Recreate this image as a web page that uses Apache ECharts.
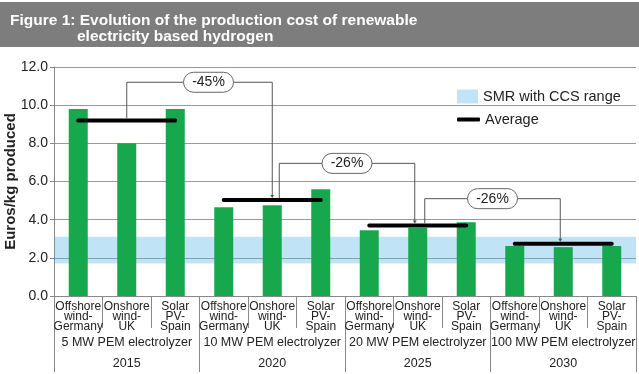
<!DOCTYPE html>
<html><head><meta charset="utf-8">
<script src="https://cdn.jsdelivr.net/npm/echarts@6/dist/echarts.min.js"></script>
<style>html,body{margin:0;padding:0;background:#fff}#c{width:639px;height:374px}</style>
</head><body><div id="c"></div>
<script>
const categories = [
  'Offshore\nwind-\nGermany','Onshore\nwind-\nUK','Solar\nPV-\nSpain',
  'Offshore\nwind-\nGermany','Onshore\nwind-\nUK','Solar\nPV-\nSpain',
  'Offshore\nwind-\nGermany','Onshore\nwind-\nUK','Solar\nPV-\nSpain',
  'Offshore\nwind-\nGermany','Onshore\nwind-\nUK','Solar\nPV-\nSpain'
];
const groupNames = ['5 MW PEM electrolyzer','10 MW PEM electrolyzer','20 MW PEM electrolyzer','100 MW PEM electrolyzer'];
const years = ['2015','2020','2025','2030'];
const costs = [9.8, 8.0, 9.8, 4.65, 4.75, 5.6, 3.45, 3.58, 3.87, 2.62, 2.56, 2.62];
const averages = [9.2, 5.03, 3.7, 2.74];
const smrRange = [1.7, 3.1];
const reductions = ['-45%', '-26%', '-26%'];
const bracketLevels = [11.2, 6.95, 5.1];
const yMin = 0, yMax = 12, yStep = 2;

const FONT = 'Liberation Sans, Arial, Helvetica, sans-serif';
const chart = echarts.init(document.getElementById('c'), null, {renderer: 'canvas'});

const avgSeries = averages.map((a, g) => ({
  type: 'line', name: 'Average', xAxisIndex: 0, yAxisIndex: 0,
  data: categories.map((_, i) => Math.floor(i / 3) === g ? a : '-'),
  symbol: 'none', z: 3, silent: true,
  lineStyle: {color: '#000', width: 4, cap: 'round'},
  itemStyle: {color: '#000'}
}));

const option = {
  animation: false,
  textStyle: {fontFamily: FONT},
  grid: {left: 54, right: 3, top: 67, bottom: 78, containLabel: false, outerBoundsMode: 'none'},
  legend: [
    {data: [{name: 'SMR with CCS range', icon: 'rect', itemStyle: {color: '#c0e4f5'}}],
     left: 452, top: 84, itemWidth: 21, itemHeight: 14, itemGap: 8,
     textStyle: {fontSize: 14.5, color: '#222', fontFamily: FONT}, selectedMode: false},
    {data: [{name: 'Average', icon: 'roundRect', itemStyle: {color: '#000'}}],
     left: 452, top: 107, itemWidth: 23, itemHeight: 4, itemGap: 8,
     textStyle: {fontSize: 14.5, color: '#222', fontFamily: FONT}, selectedMode: false}
  ],
  xAxis: [
    {type: 'category', data: categories, boundaryGap: true, position: 'bottom',
     axisLine: {show: true, lineStyle: {color: '#888', width: 1}},
     axisTick: {show: true, interval: 0, length: 32, lineStyle: {color: '#888'}},
     axisLabel: {interval: 0, fontSize: 12, lineHeight: 10, color: '#222', margin: 6, fontFamily: FONT}},
    {type: 'category', data: groupNames.map((n, i) => n + '\n' + years[i]), boundaryGap: true, position: 'bottom',
     axisLine: {show: false},
     axisTick: {show: true, interval: 0, length: 76, lineStyle: {color: '#888'}},
     axisLabel: {interval: 0, fontSize: 12.5, lineHeight: 21, color: '#222', margin: 36, fontFamily: FONT}}
  ],
  yAxis: {
    type: 'value', min: yMin, max: yMax, interval: yStep,
    name: 'Euros/kg produced', nameLocation: 'middle', nameGap: 36, nameMoveOverlap: false,
    nameTextStyle: {fontSize: 15, fontWeight: 'bold', color: '#222', fontFamily: FONT},
    axisLine: {show: true, lineStyle: {color: '#888'}},
    axisTick: {show: true, length: 4, lineStyle: {color: '#888'}},
    axisLabel: {formatter: v => v.toFixed(1), fontSize: 14, color: '#222', margin: 6, fontFamily: FONT},
    splitLine: {show: true, lineStyle: {color: '#9a9a9a', width: 1}}
  },
  series: [
    {type: 'bar', name: 'Cost', data: costs, barWidth: 19, z: 2,
     itemStyle: {color: '#17a84e'}},
    ...avgSeries,
    {type: 'line', name: 'SMR with CCS range', data: categories.map(() => '-'), z: 10, silent: true,
     itemStyle: {color: '#c0e4f5'},
     markArea: {silent: true, itemStyle: {color: 'rgba(75,178,226,0.35)'},
       data: [[{yAxis: smrRange[0]}, {yAxis: smrRange[1]}]]}}
  ]
};
chart.setOption(option);

// title banner + bracket annotations computed from the chart's own scales
const px = (cat, val) => chart.convertToPixel({xAxisIndex: 0, yAxisIndex: 0}, [cat, val]);
const graphics = [
  {type: 'rect', shape: {x: 0, y: 2, width: 639, height: 45}, style: {fill: '#7d7d7d'}, z: 100},
  {type: 'text', x: 10, y: 21, z: 101, style: {text: 'Figure 1: Evolution of the production cost of renewable',
    fill: '#fff', font: 'bold 15.5px ' + FONT, verticalAlign: 'middle'}},
  {type: 'text', x: 77, y: 37, z: 101, style: {text: 'electricity based hydrogen',
    fill: '#fff', font: 'bold 15.5px ' + FONT, verticalAlign: 'middle'}}
];
reductions.forEach((label, i) => {
  const s = px(3 * i + 1, averages[i]);
  const e = px(3 * (i + 1) + 1, averages[i + 1]);
  const top = px(3 * i + 1, bracketLevels[i])[1];
  const sx = s[0] + (i > 0 ? 7 : 0);
  const ex = e[0] - (i > 0 ? 3 : 0);
  const bx = (sx + ex) / 2 + (i === 0 ? 9 : 0);
  const bw = 50, bh = 20;
  const ls = {stroke: '#555', lineWidth: 1, fill: null};
  graphics.push({type: 'polyline', z: 90, shape: {points: [[sx, s[1] - 2], [sx, top], [bx - bw / 2, top]]}, style: ls});
  graphics.push({type: 'polyline', z: 90, shape: {points: [[bx + bw / 2, top], [ex, top], [ex, e[1] - 3]]}, style: ls});
  graphics.push({type: 'polygon', z: 90, shape: {points: [[ex - 2, e[1] - 5], [ex + 2, e[1] - 5], [ex, e[1] - 2]]}, style: {fill: '#555'}});
  graphics.push({type: 'rect', z: 91, shape: {x: bx - bw / 2, y: top - bh / 2, width: bw, height: bh, r: 10},
    style: {fill: '#fff', stroke: '#666', lineWidth: 1}});
  graphics.push({type: 'text', z: 92, x: bx, y: top, style: {text: label, fill: '#222', font: '14px ' + FONT,
    align: 'center', verticalAlign: 'middle'}});
});
chart.setOption({graphic: graphics});
</script></body></html>
